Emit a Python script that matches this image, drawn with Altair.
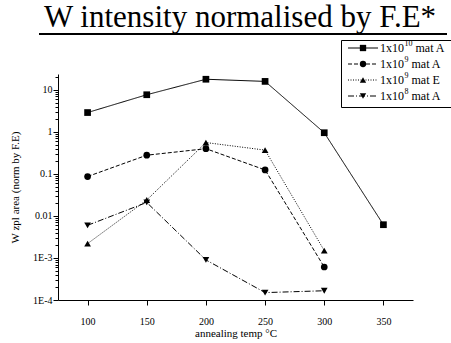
import altair as alt
import pandas as pd

# ---- data ----
temps = [100, 150, 200, 250, 300, 350]
s_10A = [2.9, 7.7, 18, 16, 0.96, 0.0062]
s_9A = [0.087, 0.28, 0.40, 0.125, 0.00061]
s_9E = [0.0022, 0.024, 0.56, 0.37, 0.0015]
s_8A = [0.006, 0.021, 0.0009, 0.00015, 0.000166]
names = ["1x10^10 mat A", "1x10^9 mat A", "1x10^9 mat E", "1x10^8 mat A"]
leg_base = ["1x10", "1x10", "1x10", "1x10"]
leg_exp = ["10", "9", "9", "8"]
leg_tail = ["mat A", "mat A", "mat E", "mat A"]
series_vals = [s_10A, s_9A, s_9E, s_8A]
shapes = ["square", "circle", "triangle-up", "triangle-down"]
dashes = [[1, 0], [4, 2], [1, 1.5], [6, 2, 1, 2]]

x_ticks = [100, 125, 150, 175, 200, 225, 250, 275, 300, 325, 350, 375]
y_ticks = [m * 10.0 ** k for k in range(-4, 2) for m in range(1, 10) if m * 10.0 ** k <= 24]

rows = []
for n, vals in zip(names, series_vals):
    for t, v in zip(temps, vals):
        rows.append({"series": n, "temp": t, "value": v})
df = pd.DataFrame(rows)

FONT = "Times New Roman, Liberation Serif, DejaVu Serif, serif"
W, H = 355, 226

xenc = alt.X(
    "temp:Q",
    scale=alt.Scale(domain=[75, 375], nice=False, zero=False),
    axis=alt.Axis(
        values=x_ticks,
        format="d",
        labelExpr="datum.value % 50 == 0 ? datum.label : ''",
        tickSize={"condition": {"test": "datum.value % 50 == 0", "value": 5}, "value": 3},
        grid=False,
        domainColor="black",
        tickColor="black",
        labelFont=FONT,
        labelFontSize=10,
        labelColor="black",
        labelPadding=11,
        title="annealing temp °C",
        titleFont=FONT,
        titleFontSize=11,
        titleFontWeight="normal",
        titleColor="black",
        titleY=33,
        titleBaseline="middle",
    ),
)
major_test = "abs(log(datum.value)/LN10 - round(log(datum.value)/LN10)) < 0.001"
yenc = alt.Y(
    "value:Q",
    scale=alt.Scale(type="log", domain=[1e-4, 24], nice=False),
    axis=alt.Axis(
        values=y_ticks,
        labelExpr="(" + major_test + ") ? (datum.value < 0.005 ? '1E' + round(log(datum.value)/LN10) : format(datum.value, '~g')) : ''",
        tickSize={"condition": {"test": major_test, "value": 5}, "value": 3},
        grid=False,
        domainColor="black",
        tickColor="black",
        labelFont=FONT,
        labelFontSize=10,
        labelColor="black",
        labelPadding=1,
        title="W zpl area (norm by F.E)",
        titleFont=FONT,
        titleFontSize=11,
        titleFontWeight="normal",
        titleColor="black",
        titleX=-43,
        titleY=H / 2,
        titleAngle=270,
        titleAlign="center",
        titleBaseline="middle",
    ),
)

lines = alt.Chart(df).mark_line(color="black", strokeWidth=1).encode(
    x=xenc,
    y=yenc,
    strokeDash=alt.StrokeDash("series:N", scale=alt.Scale(domain=names, range=dashes), legend=None),
)
points = alt.Chart(df).mark_point(filled=True, color="black", size=45, opacity=1).encode(
    x="temp:Q",
    y="value:Q",
    shape=alt.Shape("series:N", scale=alt.Scale(domain=names, range=shapes), legend=None),
)

one = pd.DataFrame({"a": [0]})
title_txt = alt.Chart(one).mark_text(
    text="W intensity normalised by F.E*", font=FONT, fontSize=31, color="black",
    align="center", baseline="alphabetic",
).encode(x=alt.value(182), y=alt.value(-47))
underline = alt.Chart(one).mark_rule(color="black", strokeWidth=2).encode(
    x=alt.value(-19), x2=alt.value(389), y=alt.value(-40)
)

legend_box = alt.Chart(one).mark_rect(fill="white", stroke="black", strokeWidth=1).encode(
    x=alt.value(283.5), x2=alt.value(396), y=alt.value(-33.5), y2=alt.value(33.5)
)
legend_layers = [legend_box]
for i, (shp, d, b, e, t) in enumerate(zip(shapes, dashes, leg_base, leg_exp, leg_tail)):
    yy = -26 + 16 * i
    tx = 322
    legend_layers.append(
        alt.Chart(one).mark_rule(color="black", strokeWidth=1, strokeDash=d).encode(
            x=alt.value(290), x2=alt.value(320), y=alt.value(yy)
        )
    )
    legend_layers.append(
        alt.Chart(one).mark_point(filled=True, color="black", size=40, opacity=1, shape=shp).encode(
            x=alt.value(305), y=alt.value(yy)
        )
    )
    legend_layers.append(
        alt.Chart(one).mark_text(text=b, font=FONT, fontSize=12, color="black", align="left", baseline="middle").encode(
            x=alt.value(tx), y=alt.value(yy)
        )
    )
    legend_layers.append(
        alt.Chart(one).mark_text(text=e, font=FONT, fontSize=8, color="black", align="left", baseline="middle").encode(
            x=alt.value(tx + 24.5), y=alt.value(yy - 4)
        )
    )
    ew = 4 * len(e)
    legend_layers.append(
        alt.Chart(one).mark_text(text=t, font=FONT, fontSize=12, color="black", align="left", baseline="middle").encode(
            x=alt.value(tx + 24.5 + ew + 3), y=alt.value(yy)
        )
    )

chart = alt.layer(lines, points, title_txt, underline, *legend_layers).properties(
    width=W,
    height=H,
    padding={"left": 58, "top": 74, "right": 38, "bottom": 43},
    autosize=alt.AutoSizeParams(type="none"),
    background="white",
).configure_view(stroke=None)

chart.save("out.html", embed_options={"renderer": "svg", "actions": False})
